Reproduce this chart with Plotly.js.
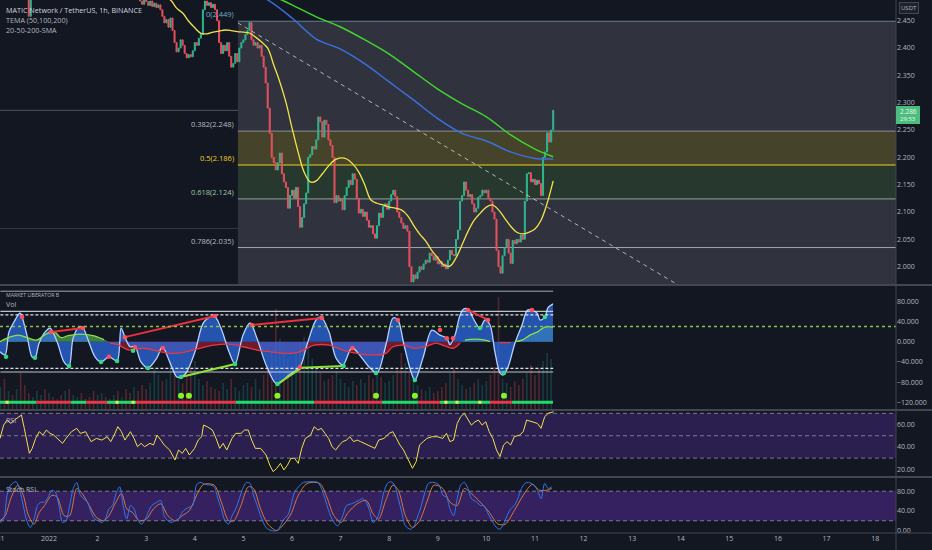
<!DOCTYPE html>
<html><head><meta charset="utf-8">
<script src="https://cdn.plot.ly/plotly-3.0.1.min.js"></script>
<style>html,body{margin:0;padding:0;background:#131722;}#chart{width:932px;height:550px;}</style>
</head><body><div id="chart"></div>
<script>
// ---------------- DATA ----------------
const baseTimeUTC = Date.UTC(2022, 0, 1, 0, 0, 0);   // hour 0 = 1 Jan 2022 00:00
const candleStartHour = -24;                           // first hourly candle: 31 Dec 00:00
const closes = [
 2.56,2.57,2.55,2.58,2.60,2.59,2.57,2.56,2.58,2.55,2.53,2.54,2.52,2.50,2.458,2.505,2.53,2.55,2.56,2.55,2.57,2.58,2.56,2.57,
 2.58,2.59,2.57,2.60,2.61,2.59,2.58,2.60,2.62,2.60,2.59,2.57,2.58,2.56,2.57,2.59,2.58,2.60,2.59,2.57,2.56,2.58,2.57,2.55,
 2.56,2.54,2.55,2.57,2.56,2.54,2.53,2.55,2.56,2.54,2.52,2.53,2.54,2.52,2.51,2.53,2.52,2.50,2.51,2.52,2.50,2.486,2.48,2.488,
 2.485,2.478,2.486,2.476,2.482,2.474,2.479,2.47,2.458,2.446,2.452,2.438,2.455,2.432,2.41,2.393,2.40,2.415,2.405,2.39,2.382,2.388,2.384,2.395,
 2.41,2.405,2.418,2.425,2.47,2.486,2.478,2.483,2.474,2.48,2.47,2.45,2.41,2.39,2.405,2.395,2.41,2.385,2.365,2.372,2.39,2.375,2.40,2.41,
 2.415,2.425,2.432,2.447,2.415,2.405,2.41,2.40,2.405,2.385,2.365,2.336,2.29,2.244,2.20,2.19,2.177,2.19,2.208,2.17,2.155,2.145,2.107,2.13,
 2.14,2.125,2.145,2.11,2.072,2.09,2.115,2.135,2.20,2.205,2.22,2.215,2.232,2.274,2.265,2.237,2.268,2.26,2.232,2.222,2.20,2.117,2.13,2.12,
 2.125,2.104,2.13,2.145,2.158,2.15,2.17,2.16,2.125,2.098,2.105,2.092,2.10,2.085,2.072,2.075,2.06,2.052,2.075,2.098,2.09,2.11,2.115,2.105,
 2.12,2.132,2.14,2.128,2.10,2.09,2.08,2.07,2.075,2.065,2.00,1.972,1.985,1.978,1.99,2.00,1.995,2.005,2.012,2.008,2.025,2.02,2.012,2.018,
 2.005,2.01,2.0,2.005,1.996,2.012,2.03,2.022,2.02,2.05,2.067,2.12,2.13,2.155,2.14,2.128,2.132,2.115,2.10,2.107,2.127,2.13,2.14,2.135,
 2.14,2.125,2.12,2.10,2.087,2.03,2.00,1.988,2.02,2.035,2.05,2.025,2.006,2.048,2.042,2.05,2.045,2.058,2.05,2.12,2.17,2.172,2.155,2.16,
 2.15,2.158,2.152,2.13,2.20,2.21,2.245,2.228,2.25,2.286
];
const yellowHours = [54,57,60,63,66,69,72,75,78,81,84,87,90,93,96,99,102,105,108,111,114,117,120,123,126,129,132,135,138,141,144,147,150,153,156,159,162,165,168,171,174,177,180,183,186,189,192,195,198,201,204,207,210,213,216,219,222,225,228,231,234,237,240,243,246,249];
const yellowValues = [2.500,2.493,2.488,2.473,2.464,2.449,2.437,2.427,2.426,2.429,2.431,2.433,2.432,2.430,2.429,2.4275,2.420,2.411,2.400,2.369,2.338,2.301,2.254,2.210,2.173,2.155,2.157,2.170,2.184,2.195,2.199,2.197,2.188,2.173,2.149,2.122,2.116,2.113,2.109,2.107,2.104,2.094,2.076,2.060,2.047,2.030,2.016,2.003,2.001,2.016,2.040,2.065,2.085,2.098,2.109,2.113,2.104,2.089,2.074,2.063,2.060,2.063,2.069,2.085,2.116,2.157];
const maHours = [96,108,120,132,144,156,168,180,192,204,216,228,240,249];
const blueValues = [2.509,2.488,2.455,2.4165,2.398,2.371,2.338,2.305,2.271,2.244,2.230,2.210,2.198,2.197];
const greenValues = [2.534,2.501,2.479,2.457,2.4385,2.415,2.389,2.357,2.325,2.298,2.274,2.241,2.215,2.201];
const trendHours = [93.3, 309.1];
const trendPrices = [2.446, 1.970];
const fibStartHour = 93.3;
const fibLevels = [0, 0.382, 0.5, 0.618, 0.786, 1];
const fibPrices = [2.449, 2.248, 2.186, 2.124, 2.035, 1.923];
const sideLinePrice = 2.070;

// Market Liberator B
const waveHours = [-24.2,-21.7,-19.8,-17.3,-14.3,-13.3,-10.9,-8.4,-6.9,-4.9,-2.0,0.5,4.0,7.4,9.9,11.9,14.8,16.8,19.0,22.7,25.7,29.6,33.6,35.6,37.5,40.0,42.5,45.4,48.9,53.3,56.0,59.8,63.2,65.2,67.7,72.1,76.5,81.5,84.9,88.9,91.9,95.8,99.3,102.7,107.2,112.6,118.5,123.9,127.4,131.9,134.3,138.3,141.7,145.2,149.6,154.1,158.5,162.0,166.4,169.9,172.3,175.3,178.8,180.7,184.7,189.1,193.1,196.5,198.0,200.5,203.0,204.9,207.4,209.4,212.8,215.3,217.8,220.2,222.7,224.2,226.7,230.1,233.6,236.5,241.0,242.5,244.9,246.4,248.9];
const waveValues = [-20,-26,19,39,57,49,13,-30,-32,-3,19,27,0,-40,-48,7,29,27,7,-30,-40,-30,-38,27,9,-10,-10,-40,-52,-32,-10,-42,-70,-70,-62,-20,39,51,27,-20,-44,13,37,7,-46,-84,-66,-50,-6,43,49,19,-32,-46,-12,-30,-52,-62,-6,47,43,-6,-60,-76,-32,23,13,7,-6,13,53,65,63,47,27,43,33,-20,-62,-66,-50,-3,33,63,57,43,49,67,75];
const flowHours = [-24.2,-20.7,-15.3,-9.9,-6.4,-1.5,2.5,5.9,9.4,15.3,21.7,27.2,30.1,34.1,39.5,46.4,55.3,60.2,67.7,74.6,81.5,88.9,95.8,102.7,109.6,117.0,123.9,130.9,138.3,145.2,152.1,159.0,166.4,169.9,175.3,180.2,185.7,191.1,193.1,196.5,199.5,203.0,205.4,210.4,215.3,217.8,222.7,227.7,230.1,233.6,237.5,241.5,244.9,248.9];
const flowValues = [0,7,13,7,3,15,20,8,12,15,12,4,-3,-6.5,-16.5,-13,-20,-23,-20,-13,-7,-5,-10,-16.5,-20,-23,-20,-7,-7,-16.5,-23,-26,-23,-10,-7,-13,-10,-3,-5,-10,-13,-3,3,5,3,0,-2,-2,0,3,13,20,29,29];
const sellDotHours = [-13.3,1.0,16.8,29.6,37.5,42.5,56.3,82.0,100.2,123.9,134.8,149.9,172.3,193.1,196.5,199.5,206.9,216.8,238.5];
const sellDotValues = [49,19,27,-30,9,-10.5,-12.5,51,33,-50,47,-12.5,43,23,7,7,63,43,63];
const buyDotHours = [-21.2,-6.9,9.9,25.7,33.6,41.5,48.9,65.2,91.9,112.8,145.5,161.5,180.7,212.8,224.7,244.9];
const buyDotValues = [-30,-32,-48,-40,-38,-18,-52,-70,-44,-84,-48,-62,-76,27,-62,49];
const bearDivHours = [[1.0,16.8],[37.5,82.0],[100.2,134.8],[206.9,216.8]];
const bearDivValues = [[19,27],[9,51],[33,47],[63,43]];
const bullDivHours = [[65.2,91.9],[112.8,124.8,145.5]];
const bullDivValues = [[-70,-44],[-84,-51.5,-48]];
const bigDotHours = [65.2,69.1,112.8,161.5,180.7,224.7];
const bigDotValue = -107;
const smallDotHours = [-20.7,33.6,41.5,196.0,201.5,212.8];
const barSegHours = [-24.2,-6.4,10.9,18.3,28.6,43.0,92.3,130.9,164.4,182.2,193.1,217.8,228.6,248.9];
const barSegState = ['up','down','up','down','up','down','up','down','up','down','up','down','up'];
const barValue = -120;
const mlbLevels = [100, 60, 53, -53, -60];
const mlbSignalLevel = 30;
const volStartHour = -24, volStepHours = 2;
const volume2h = [22,30,18,14,20,36,24,16,12,18,14,20, 16,12,10,14,18,20,14,12,16,10,12,18, 14,16,12,10,14,18,12,20,16,22,18,24, 20,26,40,34,28,30,44,36,30,26,34,40, 48,30,24,28,22,20,18,26,20,30,22,18, 24,26,22,30,20,34,40,56,100,70,60,50, 44,56,66,72,60,50,40,36,28,30,34,38, 30,26,22,28,24,30,26,34,30,38,32,26, 28,34,40,56,46,36,30,24,20,18,22,16, 18,22,26,36,40,30,24,20,22,26,30,24, 28,34,42,112,30,26,22,28,24,30,36,44, 34,40,48,56,50];

// RSI
const rsiHours = [-24.2,-22.4,-20.7,-18.9,-17.1,-14.5,-13.6,-12.2,-11.0,-9.7,-8.3,-6.6,-4.8,-3.0,-1.3,0.5,2.3,4.0,6.7,8.4,11.1,13.7,15.5,18.1,20.8,23.4,26.1,28.7,30.5,32.2,34.0,35.8,37.5,40.2,42.0,43.7,45.5,47.2,49.9,51.6,53.4,55.2,56.9,59.6,62.2,64.0,65.8,67.5,69.3,71.9,73.7,75.4,76.3,78.1,80.7,82.5,84.3,86.0,87.8,90.4,92.2,94.8,96.6,98.4,100.1,101.9,104.5,107.2,109.0,110.7,112.5,114.3,116.0,117.8,119.5,121.3,123.1,124.8,126.6,129.2,131.0,132.8,134.5,136.3,138.1,139.8,141.6,143.4,145.1,146.9,148.6,150.4,152.2,153.9,155.7,157.5,159.2,161.0,162.8,165.4,168.0,169.8,171.6,173.3,175.1,177.7,179.5,181.3,183.0,184.8,186.6,189.2,191.9,194.5,196.3,198.0,199.8,201.6,203.3,205.1,206.9,208.6,210.4,212.1,213.9,215.7,217.4,219.2,221.0,222.7,224.5,226.2,228.0,229.8,232.4,234.2,235.9,238.6,241.2,243.0,244.8,246.5,248.3,249.2];
const rsiValues = [47.6,59.5,64.0,61.0,64.0,67.0,68.5,56.6,44.7,34.2,38.7,47.6,53.6,50.6,55.1,52.1,50.6,47.6,43.2,47.6,53.6,56.6,52.1,53.6,44.7,47.6,46.1,49.1,44.7,50.6,58.1,53.6,46.1,53.6,47.6,40.2,43.2,40.2,43.2,41.7,50.6,46.1,41.7,37.2,28.3,37.2,34.2,38.7,32.8,38.7,46.1,49.1,59.5,58.1,55.1,47.6,38.7,43.2,37.2,47.6,52.1,52.1,55.1,55.1,46.1,38.7,38.7,32.8,23.8,17.9,20.9,25.3,19.4,23.8,29.8,29.8,25.3,38.7,47.6,50.6,58.1,55.1,56.6,52.1,47.6,40.2,37.2,41.7,44.7,46.1,49.1,44.7,46.1,44.7,43.2,41.7,40.2,38.7,46.1,47.6,52.1,53.6,47.6,41.7,37.2,26.8,20.9,26.8,41.7,44.7,47.6,49.1,49.1,47.6,52.1,44.7,46.1,61.0,67.0,70.0,64.0,59.5,62.5,64.0,59.5,62.5,53.6,47.6,37.2,31.3,41.7,44.7,41.7,49.1,50.6,53.6,64.0,62.5,61.0,56.6,67.0,70.0,71.4,71.4];
const rsiBands = [70, 50, 30];

// Stoch RSI
const kHours = [-24.2,-22.4,-20.7,-18.9,-16.3,-14.5,-12.7,-11.0,-9.2,-7.4,-5.7,-3.9,-2.2,-0.4,1.4,3.1,4.9,6.7,8.4,10.2,12.0,13.7,15.5,17.2,19.0,20.8,22.5,24.3,26.1,27.8,29.6,31.4,33.1,34.9,36.6,38.4,40.2,42.0,43.7,45.5,47.2,49.0,50.8,53.4,55.2,56.9,58.7,60.5,62.2,64.0,65.8,67.5,69.3,71.0,72.8,74.6,77.2,79.9,81.6,83.4,85.1,86.9,88.7,90.4,92.2,94.0,95.7,97.5,99.3,101.0,102.8,104.5,107.2,109.8,112.5,114.3,116.0,117.8,119.5,121.3,124.0,125.7,129.2,132.8,134.5,136.3,138.1,139.8,142.5,145.1,146.9,149.5,151.3,153.0,154.8,156.6,158.3,160.1,161.9,163.6,165.4,167.2,168.9,170.7,172.5,174.2,176.0,178.6,180.4,182.2,183.9,185.7,187.4,190.1,192.7,194.5,196.3,198.0,199.8,201.6,203.3,205.1,206.9,208.6,211.3,213.0,214.8,216.5,218.3,221.0,222.7,224.5,226.2,228.0,229.8,231.5,233.3,235.1,236.8,239.5,241.2,243.0,244.8,246.5,248.3];
const kValues = [16.5,23.4,71.7,92.4,99.3,82.1,51,20,6.2,23.4,51,57.9,57.9,68.3,82.1,78.6,51,16.5,20,51,85.5,97.9,71.7,64.8,57.9,37.2,23.4,20,16.5,23.4,44.1,51,75.2,89,51,23.4,51,44.1,23.4,13.1,20,37.2,51,57.9,61.4,30.3,20,16.5,20,23.4,37.2,44.1,47.6,51,92.4,97.9,93.8,92.4,89,64.8,44.1,20,13.1,30.3,44.1,64.8,85.5,97.9,95.9,71.7,51,30.3,6.2,0,0,9.6,23.4,30.3,51,78.6,92.4,97.9,99.3,97.9,85.5,64.8,40.7,23.4,9.6,30.3,51,54.5,57.9,61.4,64.8,57.9,40.7,16.5,23.4,44.1,78.6,95.9,99.3,92.4,64.8,37.2,9.6,2.7,9.6,30.3,51,78.6,95.9,97.9,92.4,71.7,68.3,44.1,30.3,64.8,92.4,97.9,85.5,64.8,57.9,51,51,37.2,23.4,6.2,2.7,13.1,30.3,44.1,51,64.8,85.5,95.9,97.9,92.4,82.1,64.8,95.9,85.5,89];
const dHours = [-24.2,-21.6,-18.9,-15.4,-12.7,-10.1,-7.4,-4.8,-2.2,1.4,4.0,7.5,10.2,13.7,16.4,19.9,23.4,27.0,29.6,32.2,35.8,38.4,41.1,44.6,48.1,51.6,55.2,58.7,62.2,65.8,69.3,73.7,76.3,81.6,85.1,88.7,91.3,94.8,98.4,101.0,104.5,108.1,112.5,116.0,119.5,123.1,127.5,133.7,137.2,140.7,144.2,147.8,152.2,156.6,160.1,162.8,166.3,169.8,172.5,176.0,179.5,183.0,186.6,190.1,194.5,198.0,201.6,205.1,208.6,213.0,217.4,221.8,225.4,229.8,234.2,238.6,242.1,245.7,248.3];
const dValues = [20,30.3,64.8,92.4,71.7,30.3,13.1,37.2,51,71.7,68.3,30.3,30.3,85.5,75.2,51,26.9,20,30.3,51,75.2,44.1,37.2,20,23.4,44.1,54.5,30.3,20,30.3,40.7,78.6,93.8,92.4,57.9,20,20,51,89,85.5,44.1,13.1,0,13.1,33.8,71.7,95.9,95.9,68.3,30.3,16.5,37.2,54.5,61.4,33.8,23.4,61.4,92.4,82.1,30.3,6.2,20,57.9,92.4,85.5,57.9,51,85.5,75.2,57.9,37.2,13.1,13.1,40.7,71.7,93.8,82.1,82.1,85.5];
const stochBands = [80, 20];

// Axes
const xRangeHours = [-24.2, 418.3];
const dayTickHours = [-24,0,24,48,72,96,120,144,168,192,216,240,264,288,312,336,360,384,408];
const dayTickLabels = ['31','2022','2','3','4','5','6','7','8','9','10','11','12','13','14','15','16','17','18'];
const priceTicks = [2.0,2.05,2.1,2.15,2.2,2.25,2.3,2.35,2.4,2.45];
const mlbTicks = [-120,-80,-40,0,40,80];
const rsiTicks = [20,40,60];
const stochTicks = [0,40,80];

// ---------------- HELPERS / STYLE ----------------
const hourToDate = h => new Date(baseTimeUTC + h * 3600000).toISOString().slice(0, 19).replace('T', ' ');
const dates = arr => arr.map(hourToDate);
const W = 932, H = 550, PLOT_BOTTOM = 533, AXIS_X = 896;
const px = x => x / W;
const py = y => (PLOT_BOTTOM - y) / PLOT_BOTTOM;
const BG = '#131722', TXT = '#b2b5be';
const FONT = 'Open Sans, Noto Sans, sans-serif';
const UP = '#2fb68e', DOWN = '#e8505e';

const candleHours = closes.map((_, i) => candleStartHour + i);
const opens = closes.map((c, i) => i === 0 ? c : closes[i - 1]);
const highs = closes.map((c, i) => Math.max(c, opens[i]));
const lows = closes.map((c, i) => Math.min(c, opens[i]));

const traces = [];
// main pane
traces.push({type:'candlestick', x: dates(candleHours), open: opens, high: highs, low: lows, close: closes,
  xaxis:'x', yaxis:'y', whiskerwidth: 0, hoverinfo:'skip',
  increasing:{line:{color:UP, width:1}, fillcolor:UP}, decreasing:{line:{color:DOWN, width:1}, fillcolor:DOWN}});
traces.push({type:'scatter', mode:'lines', x: dates(trendHours), y: trendPrices, xaxis:'x', yaxis:'y',
  line:{color:'rgba(220,222,228,0.75)', width:1, dash:'4px,4px'}, hoverinfo:'skip'});
traces.push({type:'scatter', mode:'lines', x: dates(maHours), y: greenValues, xaxis:'x', yaxis:'y',
  line:{color:'#3fd62e', width:1.5, shape:'spline'}, hoverinfo:'skip'});
traces.push({type:'scatter', mode:'lines', x: dates(maHours), y: blueValues, xaxis:'x', yaxis:'y',
  line:{color:'#3b6fe0', width:1.5, shape:'spline'}, hoverinfo:'skip'});
traces.push({type:'scatter', mode:'lines', x: dates(yellowHours), y: yellowValues, xaxis:'x', yaxis:'y',
  line:{color:'#f2e34a', width:1.3, shape:'spline'}, hoverinfo:'skip'});

// MLB pane: volume on y2 (hidden), oscillator on y5
const volHours = volume2h.map((_, i) => volStartHour + i * volStepHours);
const volColors = volHours.map(h => {
  const k = h - candleStartHour;
  return closes[k] >= opens[k] ? 'rgba(38,166,154,0.26)' : 'rgba(239,83,80,0.28)';
});
traces.push({type:'bar', x: dates(volHours), y: volume2h, xaxis:'x', yaxis:'y2',
  marker:{color: volColors, line:{width:0}}, width: 3600000 * 0.8, hoverinfo:'skip'});
const flowPos = flowValues.map(v => Math.max(v, 0));
const flowNeg = flowValues.map(v => Math.min(v, 0));
traces.push({type:'scatter', mode:'lines', x: dates(flowHours), y: flowNeg, xaxis:'x', yaxis:'y5',
  fill:'tozeroy', fillcolor:'rgba(190,30,55,0.55)', line:{width:0, shape:'spline'}, hoverinfo:'skip'});
traces.push({type:'scatter', mode:'lines', x: dates(flowHours), y: flowPos, xaxis:'x', yaxis:'y5',
  fill:'tozeroy', fillcolor:'rgba(90,200,80,0.6)', line:{width:0, shape:'spline'}, hoverinfo:'skip'});
traces.push({type:'scatter', mode:'lines', x: dates(waveHours), y: waveValues, xaxis:'x', yaxis:'y5',
  fill:'tozeroy', fillcolor:'rgba(44,108,232,0.72)', line:{color:'#b4d2ff', width:1.3, shape:'spline', smoothing:0.9}, hoverinfo:'skip'});
traces.push({type:'scatter', mode:'lines', x: dates(flowHours), y: flowValues.map(v => v < 0 ? v : null), xaxis:'x', yaxis:'y5',
  line:{color:'#e53945', width:1.3, shape:'spline'}, connectgaps:false, hoverinfo:'skip'});
traces.push({type:'scatter', mode:'lines', x: dates(flowHours), y: flowValues.map(v => v >= 0 ? v : null), xaxis:'x', yaxis:'y5',
  line:{color:'#8be04a', width:1.3, shape:'spline'}, connectgaps:false, hoverinfo:'skip'});
// level lines spanning the bars
const firstH = candleHours[0], lastH = candleHours[candleHours.length - 1];
const levelStyles = [
  {color:'rgba(200,203,210,0.8)', width:1, dash:'solid'},
  {color:'rgba(220,222,228,0.85)', width:1.2, dash:'solid'},
  {color:'rgba(235,237,240,0.95)', width:1.2, dash:'3px,2px'},
  {color:'rgba(235,237,240,0.95)', width:1.2, dash:'3px,2px'},
  {color:'rgba(220,222,228,0.85)', width:1.2, dash:'solid'}];
mlbLevels.forEach((lv, i) => traces.push({type:'scatter', mode:'lines', x: dates([firstH, lastH]), y:[lv, lv],
  xaxis:'x', yaxis:'y5', line: levelStyles[i], hoverinfo:'skip'}));
bearDivHours.forEach((hs, i) => traces.push({type:'scatter', mode:'lines', x: dates(hs), y: bearDivValues[i],
  xaxis:'x', yaxis:'y5', line:{color:'#ef2f3c', width:2}, hoverinfo:'skip'}));
bullDivHours.forEach((hs, i) => traces.push({type:'scatter', mode:'lines', x: dates(hs), y: bullDivValues[i],
  xaxis:'x', yaxis:'y5', line:{color:'#8ee234', width:2}, hoverinfo:'skip'}));
traces.push({type:'scatter', mode:'markers', x: dates(sellDotHours), y: sellDotValues, xaxis:'x', yaxis:'y5',
  marker:{color:'#ff4f5a', size:4.5}, hoverinfo:'skip'});
traces.push({type:'scatter', mode:'markers', x: dates(buyDotHours), y: buyDotValues, xaxis:'x', yaxis:'y5',
  marker:{color:'#2fdc86', size:4.5}, hoverinfo:'skip'});
// bottom state bar
['up','down'].forEach(state => {
  const xs = [], ys = [];
  barSegState.forEach((s, i) => { if (s === state) { xs.push(hourToDate(barSegHours[i]), hourToDate(barSegHours[i+1]), null); ys.push(barValue, barValue, null); } });
  traces.push({type:'scatter', mode:'lines', x: xs, y: ys, xaxis:'x', yaxis:'y5',
    line:{color: state === 'up' ? '#1fdc6a' : '#e8364a', width:3}, hoverinfo:'skip'});
});
traces.push({type:'scatter', mode:'markers', x: dates(smallDotHours), y: smallDotHours.map(() => barValue), xaxis:'x', yaxis:'y5',
  marker:{color:'#f5e050', size:3, symbol:'square'}, hoverinfo:'skip'});
traces.push({type:'scatter', mode:'markers', x: dates(bigDotHours), y: bigDotHours.map(() => bigDotValue), xaxis:'x', yaxis:'y5',
  marker:{color:'#86f22a', size:6}, hoverinfo:'skip'});

// RSI
traces.push({type:'scatter', mode:'lines', x: dates(rsiHours), y: rsiValues, xaxis:'x', yaxis:'y3',
  line:{color:'#f1e14a', width:1}, hoverinfo:'skip'});
// Stoch RSI
traces.push({type:'scatter', mode:'lines', x: dates(dHours), y: dValues, xaxis:'x', yaxis:'y4',
  line:{color:'#d9773d', width:1, shape:'spline', smoothing:0.8}, hoverinfo:'skip'});
traces.push({type:'scatter', mode:'lines', x: dates(kHours), y: kValues, xaxis:'x', yaxis:'y4',
  line:{color:'#2f78f0', width:1, shape:'spline', smoothing:0.8}, hoverinfo:'skip'});

// ---------------- SHAPES ----------------
const shapes = [];
const fibX0 = hourToDate(fibStartHour), fibX1 = hourToDate(xRangeHours[1] + 48);
const fibFills = ['#30333e', '#45442b', '#27392f', '#30333e', '#30333e'];
const fibLineColors = ['#5f8194', '#8c8f98', '#f2cf1d', '#8fa196', '#a3a6ae', '#8c8f98'];
const fibTextColors = ['#6fb0c8', '#b8bbc4', '#f2cf1d', '#9fc7a8', '#b8bbc4', '#b8bbc4'];
shapes.push({type:'line', xref:'x domain', yref:'y', x0:0, x1:1, y0:sideLinePrice, y1:sideLinePrice, layer:'below', line:{color:'#353843', width:1}});
for (let i = 0; i < fibPrices.length - 1; i++) {
  shapes.push({type:'rect', xref:'x', yref:'y', x0: fibX0, x1: fibX1, y0: fibPrices[i+1], y1: fibPrices[i], layer:'below', fillcolor: fibFills[i], line:{width:0}});
}
fibPrices.forEach((p, i) => shapes.push({type:'line', xref:'x', yref:'y', x0: fibX0, x1: fibX1, y0:p, y1:p, layer:'below', line:{color: fibLineColors[i], width:1}}));
const lastClose = closes[closes.length - 1];
shapes.push({type:'line', xref:'x domain', yref:'y', x0:0, x1:1, y0:lastClose, y1:lastClose, layer:'below', line:{color:'rgba(150,153,162,0.45)', width:1}});
// RSI / Stoch bands
shapes.push({type:'rect', xref:'x domain', yref:'y3', x0:0, x1:1, y0: rsiBands[2], y1: rsiBands[0], layer:'below', fillcolor:'#2b1f50', line:{width:0}});
rsiBands.forEach(b => shapes.push({type:'line', xref:'x domain', yref:'y3', x0:0, x1:1, y0:b, y1:b, layer:'below', line:{color:'#7d7890', width:1, dash:'4px,3px'}}));
shapes.push({type:'rect', xref:'x domain', yref:'y4', x0:0, x1:1, y0: stochBands[1], y1: stochBands[0], layer:'below', fillcolor:'#35215f', line:{width:0}});
stochBands.forEach(b => shapes.push({type:'line', xref:'x domain', yref:'y4', x0:0, x1:1, y0:b, y1:b, layer:'below', line:{color:'#7d7890', width:1, dash:'4px,3px'}}));
// MLB signal line
shapes.push({type:'line', xref:'x domain', yref:'y5', x0:0, x1:1, y0: mlbSignalLevel, y1: mlbSignalLevel, layer:'above', line:{color:'#8bc34a', width:1.5, dash:'dot'}});
// pane separators and axis borders
[285, 410, 477, 533].forEach(y => shapes.push({type:'line', xref:'paper', yref:'paper', x0:0, x1:1, y0:py(y), y1:py(y), layer:'above', line:{color:'#434651', width: y === 533 ? 1 : 2}}));
shapes.push({type:'line', xref:'paper', yref:'paper', x0:px(AXIS_X), x1:px(AXIS_X), y0:py(550), y1:1, layer:'above', line:{color:'#434651', width:1}});
// current price tag
shapes.push({type:'rect', xref:'paper', yref:'paper', x0:px(AXIS_X), x1:px(920), y0:py(124), y1:py(106), layer:'above', fillcolor:'#4dbd7e', line:{width:0}});

// ---------------- ANNOTATIONS ----------------
const ann = [];
const addText = (text, x, y, size, color, extra) => ann.push(Object.assign({text, xref:'paper', yref:'paper', x:px(x), y:py(y), xanchor:'left', yanchor:'middle', showarrow:false, font:{size, color, family:FONT}}, extra || {}));
addText('MATIC Network / TetherUS, 1h, BINANCE', 4, 10, 7.2, '#d1d4dc');
addText('TEMA (50,100,200)', 4, 20, 7.2, TXT);
addText('20-50-200-SMA', 4, 30, 7.2, TXT);
addText('MARKET LIBERATOR B', 4, 295, 5.2, TXT);
addText('Vol', 4, 305, 7, TXT);
addText('RSI', 4, 420, 7, TXT);
addText('Stoch RSI', 4, 489, 7, TXT);
addText('USDT', 909, 8, 6, TXT, {xanchor:'center', bordercolor:'#434651', borderwidth:1, borderpad:1, bgcolor:'#1e222d'});
addText(lastClose.toFixed(3), 908, 111, 6.5, '#e6f7ee', {xanchor:'center'});
addText('29:53', 908, 119, 6, '#e6f7ee', {xanchor:'center'});
fibLevels.forEach((lv, i) => {
  if (fibPrices[i] < 1.97) return;
  ann.push({text: `${lv}(${fibPrices[i].toFixed(3)})`, xref:'x', yref:'y', x: fibX0, y: fibPrices[i], xanchor:'right', yanchor:'bottom', xshift:-2, yshift:0,
    showarrow:false, font:{size:7.5, color: fibTextColors[i], family:FONT}});
});

// ---------------- LAYOUT ----------------
const yBase = {side:'right', anchor:'x', showgrid:false, zeroline:false, showline:false, ticks:'', fixedrange:true,
  tickfont:{size:7, color:TXT, family:FONT}};
const layout = {
  width:W, height:H, margin:{l:0, r:0, t:0, b:H - PLOT_BOTTOM, pad:0},
  paper_bgcolor:BG, plot_bgcolor:BG, showlegend:false, font:{family:FONT, color:TXT},
  xaxis:{type:'date', domain:[0, px(AXIS_X)], range: xRangeHours.map(hourToDate), anchor:'y4',
    tickvals: dates(dayTickHours), ticktext: dayTickLabels, ticks:'', showgrid:false, zeroline:false, showline:false,
    tickfont:{size:7, color:TXT, family:FONT}, ticklabeloverflow:'allow', rangeslider:{visible:false}, fixedrange:true},
  yaxis: Object.assign({}, yBase, {domain:[py(284), 1], range:[1.9683, 2.4879], tickvals: priceTicks, tickformat:'.3f'}),
  yaxis2: Object.assign({}, yBase, {domain:[py(409), py(286)], range:[0, 123], visible:false}),
  yaxis5: Object.assign({}, yBase, {overlaying:'y2', range:[-133.3, 110.3], tickvals: mlbTicks, tickformat:'.3f'}),
  yaxis3: Object.assign({}, yBase, {domain:[py(476), py(411)], range:[14.0, 72.1], tickvals: rsiTicks, tickformat:'.2f'}),
  yaxis4: Object.assign({}, yBase, {domain:[0, py(478)], range:[-4.9, 106.9], tickvals: stochTicks, tickformat:'.2f'}),
  shapes, annotations: ann
};
Plotly.newPlot('chart', traces, layout, {staticPlot:true, displayModeBar:false});
</script></body></html>
